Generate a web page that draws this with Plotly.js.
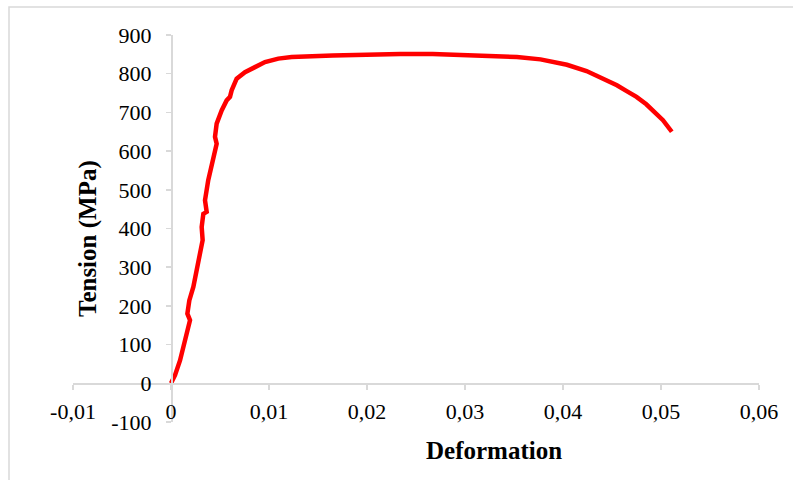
<!DOCTYPE html>
<html>
<head>
<meta charset="utf-8">
<script src="https://cdn.plot.ly/plotly-3.0.1.min.js"></script>
<style>
  html, body { margin: 0; padding: 0; background: #ffffff; }
  #chart { width: 793px; height: 480px; }
</style>
</head>
<body>
<div id="chart"></div>
<script>
// Strain (Deformation) and stress (Tension, MPa)
const strain = [0, 0.00041, 0.00092, 0.00126, 0.0016, 0.00194, 0.00167, 0.00187, 0.00228, 0.00262,
  0.00296, 0.00323, 0.00313, 0.0033, 0.00364, 0.00347, 0.0038, 0.00432, 0.00466, 0.00449,
  0.00466, 0.00517, 0.00568, 0.00602, 0.00619, 0.0067, 0.00755, 0.00857, 0.00959, 0.01095,
  0.01231, 0.0165, 0.02, 0.0234, 0.0267, 0.03, 0.0318, 0.0353, 0.0377, 0.039,
  0.0404, 0.0424, 0.0434, 0.0445, 0.0455, 0.0465, 0.0475, 0.0485, 0.0494, 0.0502,
  0.0511];
const stress = [0, 21, 59, 94, 128, 163, 180, 214, 249, 292,
  335, 370, 404, 438, 443, 473, 525, 585, 619, 637,
  671, 705, 731, 740, 757, 787, 804, 817, 830, 839,
  843, 847, 850, 851, 851, 849, 847, 843, 837, 831,
  823, 807, 796, 783, 770, 755, 740, 721, 701, 680,
  650];

const xTickVals = [-0.01, 0, 0.01, 0.02, 0.03, 0.04, 0.05, 0.06];
const xTickText = ['-0,01', '0', '0,01', '0,02', '0,03', '0,04', '0,05', '0,06'];
const yTickVals = [-100, 0, 100, 200, 300, 400, 500, 600, 700, 800, 900];
const yTickText = ['-100', '0', '100', '200', '300', '400', '500', '600', '700', '800', '900'];

const xTitle = 'Deformation';
const yTitle = 'Tension (MPa)';

const xRange = [-0.01, 0.06];
const yRange = [-100, 900];

const serif = '"Liberation Serif", "Times New Roman", serif';
const axisColor = '#d9d9d9';

const trace = {
  x: strain,
  y: stress,
  type: 'scatter',
  mode: 'lines',
  line: { color: '#ff0000', width: 4.5, shape: 'linear' },
  hoverinfo: 'x+y',
  showlegend: false
};

// positions of the crossing axes (where the other axis is zero)
const yAxisPos = (0 - xRange[0]) / (xRange[1] - xRange[0]);
const xAxisPos = (0 - yRange[0]) / (yRange[1] - yRange[0]);

const tickFont = { family: serif, size: 22, color: '#000000' };
const titleFont = { family: serif, size: 25, color: '#000000', weight: 'bold' };

const layout = {
  width: 793,
  height: 480,
  margin: { l: 73, r: 34, t: 35, b: 58 },
  paper_bgcolor: '#ffffff',
  plot_bgcolor: '#ffffff',
  font: { family: serif, size: 22, color: '#000000' },
  showlegend: false,
  xaxis: {
    range: xRange,
    domain: [0, 1],
    anchor: 'free',
    position: xAxisPos,
    tickmode: 'array',
    tickvals: xTickVals,
    ticktext: xTickText,
    ticks: 'outside',
    ticklen: 5,
    tickwidth: 1.5,
    tickcolor: axisColor,
    ticklabelstandoff: 3,
    showline: true,
    linecolor: axisColor,
    linewidth: 1.5,
    showgrid: false,
    zeroline: false,
    tickfont: tickFont,
    fixedrange: true
  },
  yaxis: {
    range: yRange,
    domain: [0, 1],
    anchor: 'free',
    position: yAxisPos,
    tickmode: 'array',
    tickvals: yTickVals,
    ticktext: yTickText,
    ticks: 'outside',
    ticklen: 5,
    tickwidth: 1.5,
    tickcolor: axisColor,
    ticklabelstandoff: 10,
    showline: true,
    linecolor: axisColor,
    linewidth: 1.5,
    showgrid: false,
    zeroline: false,
    tickfont: tickFont,
    fixedrange: true
  },
  annotations: [
    {
      text: xTitle, xref: 'paper', yref: 'paper',
      x: (494 - 73) / 686, y: (422 - 450) / 387,
      xanchor: 'center', yanchor: 'middle', showarrow: false,
      font: titleFont
    },
    {
      text: yTitle, xref: 'paper', yref: 'paper',
      x: (88 - 73) / 686, y: (422 - 239) / 387,
      xanchor: 'center', yanchor: 'middle', showarrow: false,
      textangle: -90,
      font: titleFont
    }
  ],
  shapes: [{
    type: 'rect', xref: 'paper', yref: 'paper',
    x0: (9 - 73) / 686, x1: (820 - 73) / 686,
    y0: (422 - 500) / 387, y1: 1 + (35 - 7) / 387,
    line: { color: '#d9d9d9', width: 1.5 },
    fillcolor: 'rgba(0,0,0,0)',
    layer: 'below'
  }]
};

Plotly.newPlot('chart', [trace], layout, { displayModeBar: false, staticPlot: true });
</script>
</body>
</html>
